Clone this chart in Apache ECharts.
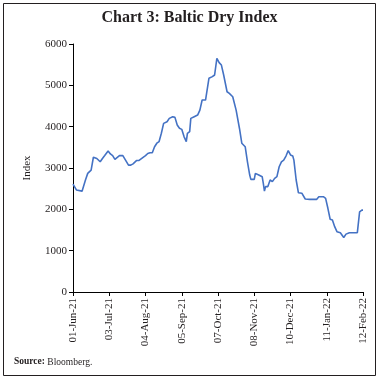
<!DOCTYPE html>
<html>
<head>
<meta charset="utf-8">
<script src="https://cdn.jsdelivr.net/npm/echarts@6/dist/echarts.min.js"></script>
<style>
html,body{margin:0;padding:0;background:#fff;}
#main{width:379px;height:379px;}
</style>
</head>
<body>
<div id="main"></div>
<script>
// ---- data ----
const startDate = '2021-06-01';
const dates = [
 '2021-06-01','2021-06-04','2021-06-09','2021-06-10','2021-06-12','2021-06-14','2021-06-17','2021-06-19',
 '2021-06-22','2021-06-25','2021-06-27','2021-06-29','2021-07-02','2021-07-04','2021-07-06','2021-07-08',
 '2021-07-12','2021-07-15','2021-07-20','2021-07-22','2021-07-24','2021-07-27','2021-07-29','2021-07-30',
 '2021-08-04','2021-08-06','2021-08-08','2021-08-10','2021-08-12','2021-08-14','2021-08-16','2021-08-18',
 '2021-08-20','2021-08-23','2021-08-25','2021-08-28','2021-08-30','2021-09-01','2021-09-03','2021-09-05',
 '2021-09-07','2021-09-09','2021-09-10','2021-09-12','2021-09-13','2021-09-16','2021-09-19','2021-09-20',
 '2021-09-21','2021-09-23','2021-09-26','2021-09-29','2021-10-02','2021-10-04','2021-10-06','2021-10-08',
 '2021-10-10','2021-10-12','2021-10-15','2021-10-17','2021-10-18','2021-10-20','2021-10-23','2021-10-24',
 '2021-10-26','2021-10-28','2021-10-31','2021-11-02','2021-11-04','2021-11-05','2021-11-08','2021-11-09',
 '2021-11-12','2021-11-15','2021-11-16','2021-11-17','2021-11-18','2021-11-20','2021-11-22','2021-11-24',
 '2021-11-26','2021-11-28','2021-11-30','2021-12-02','2021-12-04','2021-12-06','2021-12-08','2021-12-10',
 '2021-12-12','2021-12-13','2021-12-15','2021-12-17','2021-12-20','2021-12-23','2021-12-27','2022-01-02',
 '2022-01-04','2022-01-08','2022-01-10','2022-01-12','2022-01-14','2022-01-16','2022-01-18','2022-01-20',
 '2022-01-23','2022-01-26','2022-01-28','2022-01-31','2022-02-07','2022-02-09','2022-02-11','2022-02-12'
];
const bdi = [
 2610,2470,2440,2450,2710,2870,2950,3260,
 3230,3150,3230,3300,3410,3340,3300,3210,
 3300,3300,3070,3070,3100,3180,3180,3140,
 3300,3350,3370,3370,3515,3600,3640,3840,
 4080,4120,4200,4240,4225,4040,3960,3935,
 3760,3640,3840,3880,4200,4240,4280,4320,
 4400,4645,4645,5170,5210,5250,5650,5550,
 5490,5250,4845,4805,4765,4725,4400,4360,
 3950,3600,3515,3150,2830,2725,2725,2870,
 2830,2790,2630,2443,2550,2550,2710,2670,
 2750,2790,3030,3150,3190,3290,3420,3315,
 3290,3190,2710,2400,2390,2250,2240,2240,
 2305,2305,2265,2025,1760,1740,1580,1460,
 1435,1320,1400,1435,1435,1940,1980,1980
];
const xTickDays = 32;
const xMaxDays = 256;
const yTicks = [0,1000,2000,3000,4000,5000,6000];
const titleText = 'Chart 3: Baltic Dry Index';
const yName = 'Index';
const monthNames = ['Jan','Feb','Mar','Apr','May','Jun','Jul','Aug','Sep','Oct','Nov','Dec'];

const DAY = 86400000;
const t0 = Date.parse(startDate + 'T00:00:00Z');
const dayOf = s => Math.round((Date.parse(s + 'T00:00:00Z') - t0) / DAY);
const fmt = d => {
  const dt = new Date(t0 + d * DAY);
  const dd = String(dt.getUTCDate()).padStart(2,'0');
  return dd + '-' + monthNames[dt.getUTCMonth()] + '-' + String(dt.getUTCFullYear()).slice(2);
};
const seriesData = dates.map((s,i) => [dayOf(s), bdi[i]]);

const chart = echarts.init(document.getElementById('main'), null, {renderer:'canvas'});
const serif = 'Liberation Serif';
chart.setOption({
  animation: false,
  backgroundColor: '#fff',
  title: {
    text: titleText, left: 'center', top: 5,
    textStyle: {fontFamily: serif, fontWeight: 'bold', fontSize: 16, color: '#231f20'}
  },
  grid: {left: 73, right: 16, top: 44, bottom: 87, containLabel: false},
  xAxis: {
    type: 'value', min: 0, max: xMaxDays, interval: xTickDays,
    axisLine: {show: true, onZero: false, lineStyle: {color: '#000', width: 1}},
    axisTick: {show: true, length: 4, lineStyle: {color: '#000'}},
    splitLine: {show: false},
    axisLabel: {rotate: 90, formatter: v => fmt(v), fontFamily: serif, fontSize: 11, color: '#231f20', margin: 6}
  },
  yAxis: {
    type: 'value', min: yTicks[0], max: yTicks[yTicks.length-1], interval: 1000,
    name: yName, nameLocation: 'middle', nameGap: 40, nameRotate: 90,
    nameTextStyle: {fontFamily: serif, fontSize: 11, color: '#231f20'},
    axisLine: {show: true, lineStyle: {color: '#000', width: 1}},
    axisTick: {show: true, length: 4, lineStyle: {color: '#000'}},
    splitLine: {show: false},
    axisLabel: {fontFamily: serif, fontSize: 11, color: '#231f20', margin: 6, formatter: v => String(v)}
  },
  series: [{
    type: 'line', data: seriesData, showSymbol: false, symbol: 'none',
    lineStyle: {color: '#4472C4', width: 1.6}, smooth: false
  }],
  graphic: [
    {type: 'rect', shape: {x: 3.5, y: 3.5, width: 372, height: 372},
     style: {fill: 'none', stroke: '#231f20', lineWidth: 1}, z: 100},
    {type: 'text', left: 14, top: 357,
     style: {rich: {b: {fontFamily: serif, fontWeight: 'bold', fontSize: 9.5, fill: '#231f20'},
                    n: {fontFamily: serif, fontSize: 9.5, fill: '#231f20'}},
             text: '{b|Source:}{n| Bloomberg.}'}}
  ]
});
</script>
</body>
</html>
